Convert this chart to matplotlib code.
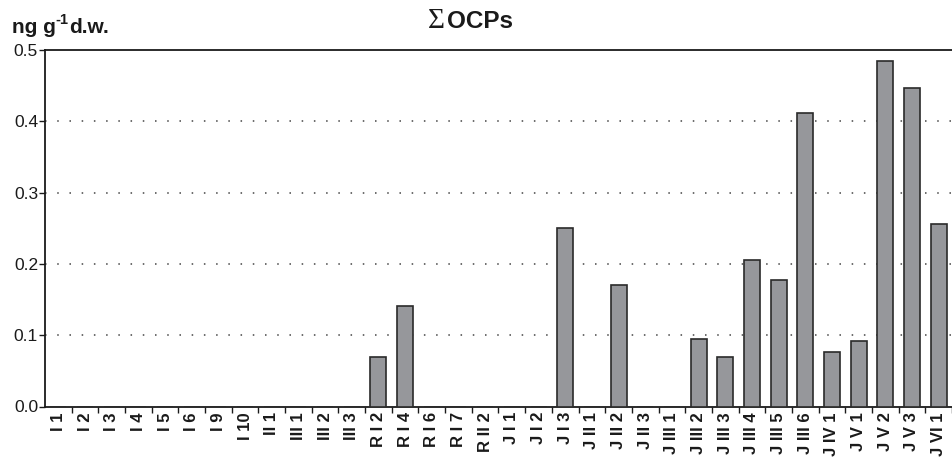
import matplotlib
matplotlib.use("Agg")
import matplotlib.pyplot as plt
import numpy as np

# ── Data ──
SITES = ["I 1", "I 2", "I 3", "I 4", "I 5", "I 6", "I 9", "I 10", "II 1",
         "III 1", "III 2", "III 3", "R I 2", "R I 4", "R I 6", "R I 7",
         "R II 2", "J I 1", "J I 2", "J I 3", "J II 1", "J II 2", "J II 3",
         "J III 1", "J III 2", "J III 3", "J III 4", "J III 5", "J III 6",
         "J IV 1", "J V 1", "J V 2", "J V 3", "J VI 1"]
OCPS = [0, 0, 0, 0, 0, 0, 0, 0, 0,
        0, 0, 0, 0.070, 0.141, 0, 0,
        0, 0, 0, 0.250, 0, 0.171, 0,
        0, 0.095, 0.070, 0.205, 0.178, 0.411,
        0.077, 0.092, 0.485, 0.447, 0.256]
Y_TICKS = [0.0, 0.1, 0.2, 0.3, 0.4, 0.5]

# ── Style ──
BAR = "#96979b"
EDGE = "#2a2a2a"
FG = "#1a1a1a"

plt.rcParams["font.family"] = ["Liberation Sans", "DejaVu Sans"]

W, H = 952, 457
fig = plt.figure(figsize=(W / 100, H / 100), dpi=100)
ax = fig.add_axes([45 / W, 1 - 406.5 / H, 1 - 45 / W, (406.5 - 50) / H])

x = np.arange(len(SITES))
ax.bar(x, OCPS, width=0.6, color=BAR, edgecolor=EDGE, linewidth=1.2,
       zorder=3)

ax.set_xlim(-0.5, len(SITES) - 1.0)
ax.set_ylim(0, 0.5)

# gridlines
for v in Y_TICKS[1:-1]:
    ax.axhline(v, color="#444444", linewidth=1.1, linestyle=(0, (1, 7)),
               zorder=1)

ax.spines["right"].set_visible(False)
for s in ("left", "bottom", "top"):
    ax.spines[s].set_color(FG)
    ax.spines[s].set_linewidth(1.3)

ax.set_yticks(Y_TICKS)
ax.set_yticklabels([f"{v:.1f}" for v in Y_TICKS], fontsize=12.5, color=FG)
ax.tick_params(axis="y", direction="out", length=4, width=1, pad=1,
               colors=FG)

ax.set_xticks(x)
ax.set_xticklabels(SITES, rotation=90, fontsize=12, fontweight="bold",
                   color=FG)
ax.tick_params(axis="x", which="major", length=0, pad=4)
ax.set_xticks(np.arange(len(SITES)) + 0.5, minor=True)
ax.tick_params(axis="x", which="minor", direction="out", length=4, width=1,
               colors=FG)

renderer = fig.canvas.get_renderer()

# title: serif sigma followed by bold "OCPs"
sig = fig.text(428 / W, 1 - 28 / H, "\u03a3", fontsize=21,
               family="Liberation Serif", ha="left", va="baseline", color=FG)
x_ocp = 428 + sig.get_window_extent(renderer).width + 2
fig.text(x_ocp / W, 1 - 28 / H, "OCPs", fontsize=17.5, fontweight="bold",
         ha="left", va="baseline", color=FG)

# unit label: "ng g" + superscript "-1" + "d.w."
xpos = 12
for txt, size, dy in (("ng g", 15, 0), ("-1", 10.5, 9), ("d.w.", 15, 0)):
    t = fig.text(xpos / W, 1 - (33 - dy) / H, txt, fontsize=size,
                 fontweight="bold", ha="left", va="baseline", color=FG)
    xpos += t.get_window_extent(renderer).width

fig.savefig("out.png", dpi=100, facecolor="white")
